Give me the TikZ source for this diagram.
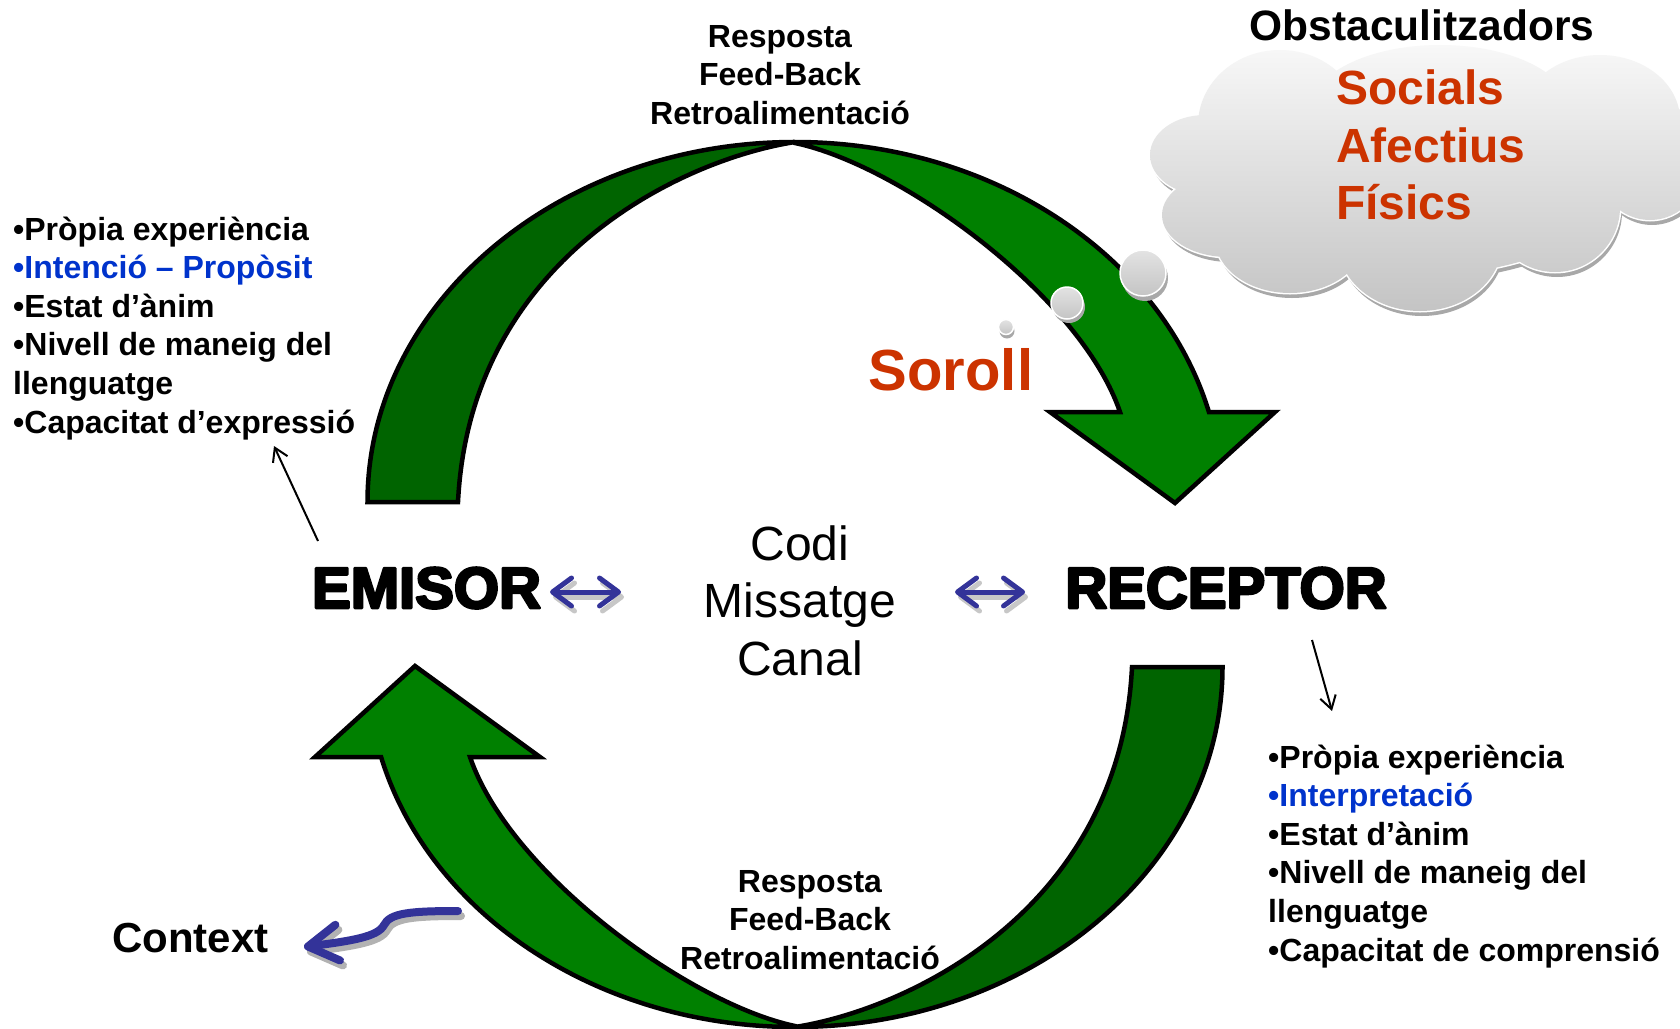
\documentclass[tikz,border=0pt]{standalone}
\usepackage{fontspec}
\setmainfont{Liberation Sans}
\newfontfamily\heavyfont{Liberation Sans Bold}[FakeBold=4.5]
\usetikzlibrary{arrows.meta}
\definecolor{darkgreen}{HTML}{006400}
\definecolor{brightgreen}{HTML}{008000}
\definecolor{redtxt}{HTML}{CC3300}
\definecolor{bluetxt}{HTML}{0033CC}
\definecolor{arrowblue}{HTML}{333399}
\definecolor{cloudtop}{HTML}{F8F8F8}
\definecolor{cloudbot}{HTML}{C4C4C4}
\definecolor{cloudshadow}{HTML}{A8A8A8}
\newcommand\setfs[1]{\fontsize{#1}{#1}\selectfont}
\newcommand\roundjoin{\special{pdf:literal direct 1 j}}
\newcommand\myCurvedArrow{%
  \filldraw[greenline, fill=darkgreen] (367.5,502)
    arc[start angle=180, end angle=270, x radius=427.5, y radius=360]
    .. controls (680,160) and (470,260) .. (458,502) -- cycle;
  \filldraw[greenline, fill=brightgreen] (795,142)
    arc[start angle=270, end angle=345.52, x radius=427.5, y radius=360]
    -- (1275,412) -- (1175,503) -- (1050,412) -- (1120,412)
    .. controls (1080,295) and (900,165) .. (795,143) -- cycle;
}
\newcommand\cloudshapes{%
  (1420,175) ellipse[x radius=200, y radius=100]
  (1280,125) ellipse[x radius=82, y radius=75]
  (1440,110) ellipse[x radius=130, y radius=65]
  (1600,120) ellipse[x radius=80, y radius=65]
  (1205,155) ellipse[x radius=55, y radius=40]
  (1228,215) ellipse[x radius=66, y radius=42]
  (1290,238) ellipse[x radius=75, y radius=55]
  (1420,243) ellipse[x radius=82, y radius=68]
  (1555,207) ellipse[x radius=65, y radius=65]
  (1650,160) ellipse[x radius=55, y radius=60]
}
\tikzset{
  greenline/.style={draw=black, line width=4.5pt, line join=miter, miter limit=10},
  listtxt/.style={anchor=base west, inner sep=0pt, font=\setfs{32}\bfseries},
  feedtxt/.style={anchor=base, inner sep=0pt, font=\setfs{32}\bfseries},
  bigtxt/.style={anchor=base, inner sep=0pt, font=\setfs{58}\heavyfont\roundjoin},
  midtxt/.style={anchor=base, inner sep=0pt, font=\setfs{48}},
  obstxt/.style={anchor=base west, inner sep=0pt, font=\setfs{48}\bfseries, text=redtxt},
  thinarrow/.style={draw=black, line width=2pt, -{Straight Barb[length=13pt,width=16pt]}},
  dblarrow/.style={line width=5pt, line cap=round,
    {Straight Barb[length=19pt,width=28pt,round]}-{Straight Barb[length=19pt,width=28pt,round]}},
  ctxarrow/.style={line width=8pt, line cap=round,
    -{Straight Barb[length=30pt,width=36pt,round]}},
  bubble/.style={top color=cloudtop!60!cloudbot, bottom color=cloudbot, draw=white, line width=1.5pt},
}
\begin{document}
\begin{tikzpicture}[x=1pt,y=-1pt]
\useasboundingbox (0,0) rectangle (1680,1028);

% green curved arrows
\myCurvedArrow
\begin{scope}[rotate around={180:(795,584.5)}]
  \myCurvedArrow
\end{scope}

% cloud
\fill[cloudshadow, shift={(2,5)}] \cloudshapes;
\draw[white, line width=3pt] \cloudshapes;
\shade[top color=cloudtop, bottom color=cloudbot] \cloudshapes;

% thought bubbles
\fill[cloudshadow] (1145,278) circle[radius=23];
\shadedraw[bubble] (1143,273) circle[radius=23];
\fill[cloudshadow] (1069,307) circle[radius=16];
\shadedraw[bubble] (1067,303) circle[radius=16];
\fill[cloudshadow] (1007,331) circle[radius=7.5];
\shadedraw[bubble] (1006,327) circle[radius=7.5];

% cloud texts
\node[anchor=base, inner sep=0pt, font=\setfs{42.5}\bfseries] (obs) at (1422,40) {Obstaculitzadors};
\node[obstxt] (soc) at (1336,104) {Socials};
\node[obstxt] (afe) at (1336,162) {Afectius};
\node[obstxt] (fis) at (1336,219) {Físics};

% soroll
\node[anchor=base, inner sep=0pt, font=\setfs{58}\bfseries, text=redtxt] (sor) at (951,390) {Soroll};

% feed-back texts
\node[feedtxt] (ft1) at (780,47) {Resposta};
\node[feedtxt] (ft2) at (780,85.6) {Feed-Back};
\node[feedtxt] (ft3) at (780,124.2) {Retroalimentació};
\node[feedtxt] (fb1) at (810,892) {Resposta};
\node[feedtxt] (fb2) at (810,930.6) {Feed-Back};
\node[feedtxt] (fb3) at (810,969.2) {Retroalimentació};

% main labels
\node[bigtxt] (emisor) at (426.5,608) {EMISOR};
\node[bigtxt] (receptor) at (1226,608) {RECEPTOR};
\node[midtxt] (codi) at (800,560) {Codi};
\node[midtxt] (missatge) at (800,617.6) {Missatge};
\node[midtxt] (canal) at (800,675.2) {Canal};
\node[anchor=base, inner sep=0pt, font=\setfs{42}\bfseries] (context) at (190.5,952) {Context};

% left list
\node[listtxt] (l1) at (13,240) {•Pròpia experiència};
\node[listtxt, text=bluetxt] (l2) at (13,278.6) {•Intenció – Propòsit};
\node[listtxt] (l3) at (13,317.2) {•Estat d’ànim};
\node[listtxt] (l4) at (13,355.8) {•Nivell de maneig del};
\node[listtxt] (l5) at (13,394.4) {llenguatge};
\node[listtxt] (l6) at (13,433) {•Capacitat d’expressió};

% right list
\node[listtxt] (r1) at (1268,768) {•Pròpia experiència};
\node[listtxt, text=bluetxt] (r2) at (1268,806.6) {•Interpretació};
\node[listtxt] (r3) at (1268,845.2) {•Estat d’ànim};
\node[listtxt] (r4) at (1268,883.8) {•Nivell de maneig del};
\node[listtxt] (r5) at (1268,922.4) {llenguatge};
\node[listtxt] (r6) at (1268,961) {•Capacitat de comprensió};

% thin black arrows
\coordinate (ea) at (318,541);
\coordinate (eb) at (274,446);
\coordinate (ra) at (1312,640);
\coordinate (rb) at (1332,711);
\draw[thinarrow] (ea) -- (eb);
\draw[thinarrow] (ra) -- (rb);

% blue double arrows
\coordinate (da1) at (550,592);
\coordinate (da2) at (621,592);
\coordinate (db1) at (955,592);
\coordinate (db2) at (1025,592);
\draw[dblarrow, draw=black!22] ([xshift=3pt,yshift=-5pt]da1) -- ([xshift=3pt,yshift=-5pt]da2);
\draw[dblarrow, draw=black!22] ([xshift=3pt,yshift=-5pt]db1) -- ([xshift=3pt,yshift=-5pt]db2);
\draw[dblarrow, draw=arrowblue] (da1) -- (da2);
\draw[dblarrow, draw=arrowblue] (db1) -- (db2);

% context arrow
\coordinate (ca) at (458,911);
\coordinate (cb) at (304,947);
\draw[ctxarrow, draw=black!30] ([xshift=3pt,yshift=-5pt]ca) .. controls ([xshift=3pt,yshift=-5pt]410,911) and ([xshift=3pt,yshift=-5pt]390,913) .. ([xshift=3pt,yshift=-5pt]384,925) .. controls ([xshift=3pt,yshift=-5pt]378,937) and ([xshift=3pt,yshift=-5pt]350,941) .. ([xshift=3pt,yshift=-5pt]cb);
\draw[ctxarrow, draw=arrowblue] (ca) .. controls (410,911) and (390,913) .. (384,925) .. controls (378,937) and (350,941) .. (cb);
\end{tikzpicture}
\end{document}
